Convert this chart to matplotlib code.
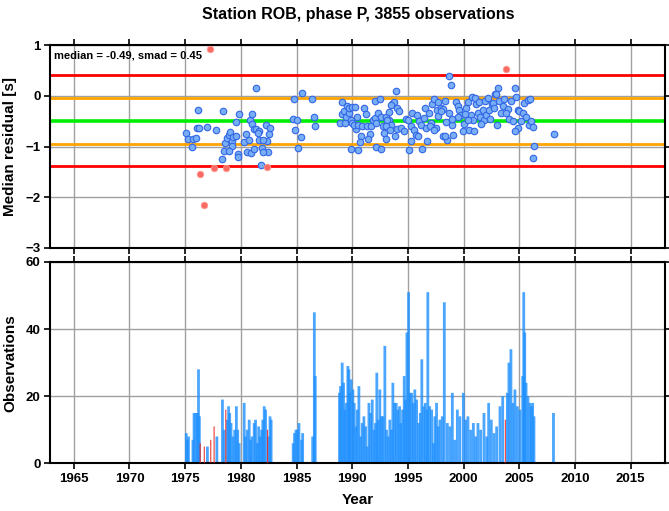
import matplotlib
matplotlib.use("Agg")
import matplotlib.pyplot as plt
import numpy as np

plt.rcParams['font.family'] = ['Liberation Sans', 'DejaVu Sans']
plt.rcParams['font.weight'] = 'bold'

station = "ROB"
phase = "P"
n_obs = 3855
median = -0.49
smad = 0.45

# binned median residuals (decimal year, seconds)
res_year = [
    1975.12, 1975.27, 1975.72, 1975.93, 1975.63, 1976.08, 1976.26, 1976.17, 1976.97, 1977.81,
    1978.41, 1976.35, 1976.73, 1977.27, 1977.57, 1978.68, 1982.36, 1978.32, 1978.47, 1978.62,
    1978.77, 1978.92, 1979.07, 1979.25, 1979.22, 1978.95, 1979.31, 1979.61, 1979.76, 1979.72,
    1979.54, 1979.85, 1980.44, 1980.26, 1980.69, 1980.53, 1980.89, 1980.78, 1980.96, 1980.99,
    1981.17, 1981.38, 1981.61, 1981.52, 1981.38, 1982.22, 1982.60, 1982.55, 1982.31, 1981.61,
    1981.97, 1981.20, 1981.92, 1982.42, 1982.01, 1981.79,
    1984.64, 1984.79, 1984.88, 1985.06, 1985.15, 1985.42, 1985.51, 1986.41, 1986.59, 1986.68,
    1988.89, 1989.04, 1989.10, 1989.28, 1989.43, 1989.34, 1989.55, 1989.67, 1989.73, 1989.97,
    1990.24, 1989.89, 1990.00, 1990.30, 1990.18, 1990.39, 1990.51, 1990.90, 1990.75, 1990.69,
    1989.92, 1990.55, 1991.05, 1991.20, 1991.35, 1991.65, 1991.59, 1991.41, 1992.08, 1992.46,
    1991.83, 1992.04, 1992.34, 1992.58, 1992.12, 1992.75, 1992.84, 1993.04, 1992.12, 1992.54,
    1993.00, 1993.30, 1993.60, 1993.92, 1993.74, 1993.52, 1994.04, 1994.19, 1993.29, 1993.15,
    1993.44, 1994.04, 1994.34, 1994.64, 1994.79, 1995.04, 1995.40, 1995.78, 1995.24, 1995.54,
    1995.69, 1995.31, 1995.09, 1996.29, 1995.99, 1996.14, 1996.44, 1996.59, 1996.68, 1996.53,
    1996.89, 1997.04, 1997.19, 1997.34, 1997.49, 1997.64, 1997.73, 1997.94, 1998.14, 1998.30,
    1998.12, 1998.51, 1998.42, 1998.72, 1998.67, 1998.87, 1998.96, 1999.08, 1999.32, 1999.47,
    1999.62, 1999.77, 1999.53, 1999.92, 2000.00, 2000.21, 2000.36, 2000.75, 2000.51, 2000.96,
    2000.66, 2001.11, 2001.26, 2001.50, 2001.71, 2001.86, 2002.01, 2002.31, 2002.55, 2002.85,
    2000.81, 1993.05, 1993.35, 1993.80, 1995.90, 1996.95, 1997.35, 1997.70, 1998.00, 1998.30,
    1999.00, 2001.00, 2001.40, 2001.90, 2002.20, 2002.40, 2001.60, 2000.40, 2000.10,
    2003.80, 2003.06, 2002.88, 2004.64, 2002.61, 2003.21, 2003.66, 2004.70, 2004.25, 2002.76,
    2003.51, 2003.96, 2003.36, 2003.80, 2002.97, 2004.10, 2004.40, 2004.86, 2005.00, 2005.30,
    2005.15, 2005.45, 2005.75, 2005.99, 2005.60, 2005.90, 2006.05, 2006.20, 2004.85, 2004.61,
    2006.35, 2006.20, 2008.09,
]
res_value = [
    -0.73, -0.85, -0.85, -0.84, -1.01, -0.64, -0.64, -0.27, -0.62, -0.67,
    -0.30, -1.54, -2.15, 0.92, -1.42, -1.42, -1.41, -1.25, -1.09, -0.93,
    -0.83, -0.77, -0.71, -0.90, -0.99, -1.08, -0.81, -0.80, -1.15, -1.21,
    -0.52, -0.35, -0.75, -0.91, -0.88, -1.10, -1.13, -0.47, -0.36, -0.55,
    -0.66, -0.66, -0.70, -0.73, 0.15, -0.57, -0.63, -0.75, -0.90, -0.87,
    -0.87, -1.05, -1.02, -1.10, -1.11, -1.36,
    -0.46, -0.07, -0.68, -0.48, -1.02, -0.81, 0.06, -0.07, -0.41, -0.60,
    -0.54, -0.35, -0.13, -0.30, -0.42, -0.54, -0.20, -0.34, -0.24, -0.22,
    -0.22, -0.47, -0.54, -0.66, -0.57, -0.41, -0.57, -0.60, -0.80, -0.91,
    -1.04, -1.07, -0.23, -0.36, -0.60, -0.60, -0.75, -0.85, -0.11, -0.07,
    -0.47, -0.44, -0.34, -0.41, -0.54, -0.60, -0.73, -0.85, -1.00, -1.05,
    -0.41, -0.47, -0.17, 0.09, -0.13, -0.19, -0.24, -0.30, -0.32, -0.47,
    -0.57, -0.66, -0.64, -0.70, -0.46, -0.48, -0.34, -0.38, -0.60, -0.67,
    -0.77, -0.89, -1.07, -1.04, -0.50, -0.57, -0.44, -0.64, -0.90, -0.23,
    -0.34, -0.54, -0.17, -0.07, -0.64, -0.27, -0.12, -0.24, -0.26, -0.11,
    -0.80, -0.87, -0.52, -0.34, 0.40, 0.21, -0.58, -0.77, -0.12, -0.21,
    -0.27, -0.37, -0.42, -0.70, -0.56, -0.24, -0.13, -0.03, -0.67, -0.69,
    -0.37, -0.17, -0.34, -0.41, -0.27, -0.47, -0.37, -0.27, -0.17, 0.03,
    -0.47, -0.60, -0.67, -0.80, -0.80, -0.60, -0.67, -0.40, -0.30, -0.80,
    -0.45, -0.05, -0.12, -0.10, -0.05, -0.45, -0.55, -0.48, -0.35,
    0.52, 0.15, 0.04, 0.15, -0.14, -0.11, -0.06, -0.02, -0.11, -0.24,
    -0.21, -0.26, -0.34, -0.34, -0.57, -0.46, -0.49, -0.27, -0.30, -0.34,
    -0.50, -0.14, -0.09, -0.07, -0.42, -0.57, -0.49, -0.62, -0.64, -0.70,
    -0.99, -1.23, -0.75,
]

# observation counts per bin
bar_year = [
    1975.10, 1975.20, 1975.30, 1975.70, 1975.80, 1975.95, 1976.10, 1976.20, 1976.28, 1977.00,
    1977.85, 1978.35, 1978.50, 1978.80, 1978.90, 1979.00, 1979.12, 1979.30, 1979.45, 1979.60,
    1979.72, 1979.85, 1980.30, 1980.42, 1980.57, 1980.75, 1980.87, 1981.00, 1981.20, 1981.32,
    1981.48, 1981.60, 1981.72, 1981.87, 1981.97, 1982.10, 1982.22, 1982.52, 1982.62, 1982.72,
    1984.70, 1984.82, 1984.95, 1985.10, 1985.22, 1985.45, 1985.55, 1986.45, 1986.60, 1986.68,
    1988.86, 1988.95, 1989.10, 1989.22, 1989.34, 1989.46, 1989.61, 1989.70, 1989.78, 1989.91,
    1990.06, 1990.18, 1990.33, 1990.45, 1990.60, 1990.75, 1990.90, 1991.05, 1991.20, 1991.35,
    1991.50, 1991.65, 1991.80, 1991.95, 1992.09, 1992.21, 1992.34, 1992.48, 1992.63, 1992.75,
    1992.93, 1993.08, 1993.23, 1993.38, 1993.53, 1993.65, 1993.80, 1993.95, 1994.10, 1994.25,
    1994.37, 1994.52, 1994.67, 1994.79, 1994.91, 1995.06, 1995.18, 1995.33, 1995.48, 1995.62,
    1995.78, 1995.96, 1996.11, 1996.25, 1996.41, 1996.56, 1996.70, 1996.79, 1996.95, 1997.13,
    1997.30, 1997.42, 1997.57, 1997.72, 1997.87, 1998.09, 1998.27, 1998.54, 1998.77, 1998.99,
    1999.20, 1999.44, 1999.67, 1999.98, 2000.18, 2000.39, 2000.63, 2000.88, 2001.08, 2001.29,
    2001.53, 2001.83, 2002.07, 2002.25, 2002.49, 2002.73, 2002.97, 2003.27, 2003.51, 2003.93,
    2004.07, 2004.25, 2004.43, 2004.61, 2004.83, 2005.06, 2005.31, 2005.40, 2005.49, 2005.61,
    2005.78, 2005.96, 2006.09, 2006.20, 2006.32, 2008.07,
]
bar_count = [
    9, 7, 8, 7, 15, 15, 15, 28, 14, 5,
    8, 19, 10, 13, 17, 15, 12, 8, 10, 17,
    10, 6, 18, 8, 10, 13, 7, 8, 12, 13,
    6, 11, 8, 10, 13, 17, 16, 8, 14, 13,
    6, 9, 10, 10, 12, 7, 9, 8, 45, 26,
    21, 23, 30, 24, 16, 18, 29, 28, 21, 25,
    22, 18, 11, 16, 23, 8, 12, 14, 11, 5,
    18, 15, 19, 10, 12, 27, 13, 22, 14, 14,
    35, 10, 8, 13, 10, 24, 18, 18, 16, 17,
    12, 16, 26, 19, 39, 51, 21, 21, 18, 22,
    19, 12, 15, 31, 17, 18, 16, 51, 17, 16,
    6, 14, 18, 11, 13, 14, 48, 12, 11, 21,
    7, 16, 14, 21, 13, 14, 10, 12, 8, 12,
    10, 15, 8, 18, 13, 9, 11, 17, 20, 21,
    30, 34, 18, 22, 17, 16, 26, 51, 39, 24,
    20, 18, 17, 18, 14, 15,
]
# bins whose median lies outside 2 smad
outlier_bar_year = [1976.35, 1976.72, 1977.30, 1977.60, 1978.65, 1982.40, 2003.75]
outlier_bar_count = [6, 5, 7, 11, 16, 10, 13]

xlim = (1962.9, 2018.1)
years = np.arange(1965, 2016, 5)

fig = plt.figure(figsize=(6.69, 5.11), dpi=100)
ax1 = fig.add_axes([0.0753, 0.5147, 0.919, 0.397])
ax2 = fig.add_axes([0.0753, 0.0933, 0.919, 0.394])

for ax in (ax1, ax2):
    ax.set_xlim(*xlim)
    ax.set_xticks(years)
    ax.grid(True, color='#a0a0a0', linewidth=1.0, zorder=0)
    ax.set_axisbelow(True)
    ax.tick_params(direction='out', length=4, width=1.2, top=True, right=True,
                   labelsize=9.5, pad=3)
    for s in ax.spines.values():
        s.set_linewidth(1.5)
        s.set_color('black')

# top panel
res_year = np.array(res_year)
res_value = np.array(res_value)
out = np.abs(res_value - median) > 2 * smad

for val, col, lw in [(median + 2 * smad, '#ff0000', 2.0),
                     (median + smad, '#ffa500', 2.0),
                     (median, '#00ee00', 2.6),
                     (median - smad, '#ffa500', 2.0),
                     (median - 2 * smad, '#ff0000', 2.0)]:
    ax1.axhline(val, color=col, linewidth=lw, zorder=2)

ax1.text(0.006, 0.975, f"median = {median:.2f}, smad = {smad:.2f}", transform=ax1.transAxes,
         fontsize=8, fontweight='bold', va='top', ha='left', zorder=3)
ax1.scatter(res_year[~out], res_value[~out], s=22, facecolor='#78aef5', edgecolor='#3366e6',
            linewidth=0.8, zorder=4)
ax1.scatter(res_year[out], res_value[out], s=22, facecolor='#f86a62', edgecolor='#ff9a90',
            linewidth=0.6, zorder=4)
ax1.set_ylim(-3, 1)
ax1.set_yticks([-3, -2, -1, 0, 1])
ax1.tick_params(labelbottom=False)
ax1.set_ylabel("Median residual [s]", fontsize=11, fontweight='bold', labelpad=6)
ax1.set_title(f"Station {station}, phase {phase}, {n_obs} observations",
              fontsize=11.5, fontweight='bold', pad=19)

# bottom panel
ax2.bar(bar_year, bar_count, width=0.25, color='#1e90ff', alpha=0.8, linewidth=0,
        snap=False, zorder=2)
ax2.bar(outlier_bar_year, outlier_bar_count, width=0.1, color='#e81818', alpha=0.85,
        linewidth=0, snap=False, zorder=3)
ax2.set_ylim(0, 60)
ax2.set_yticks([0, 20, 40, 60])
ax2.set_ylabel("Observations", fontsize=11, fontweight='bold', labelpad=6)
ax2.set_xlabel("Year", fontsize=11, fontweight='bold', labelpad=6)

fig.savefig("out.png", dpi=100)
